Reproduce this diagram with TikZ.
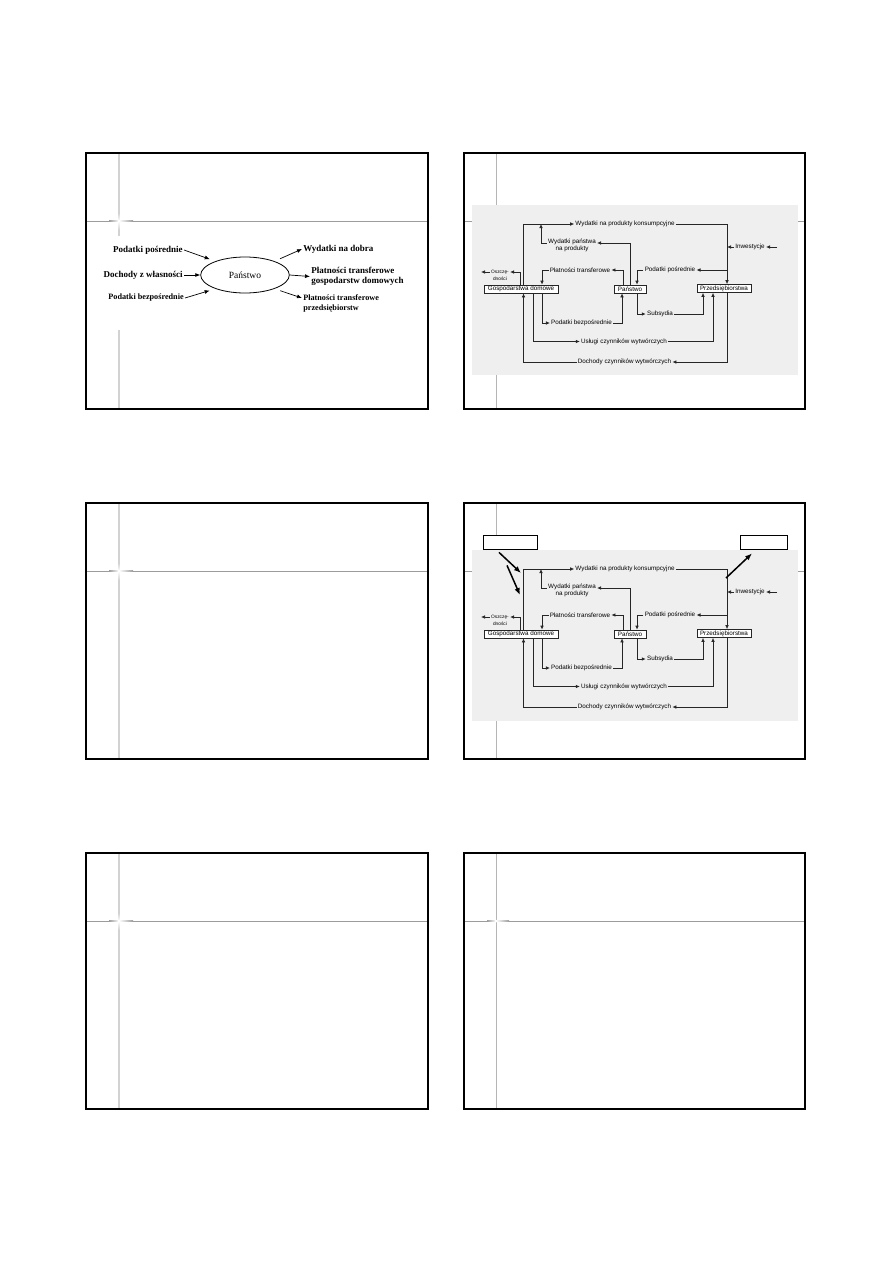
\documentclass[tikz,border=0pt]{standalone}
\usepackage{fontspec}
\setmainfont{Liberation Serif}
\setsansfont{Liberation Sans}
\usetikzlibrary{arrows.meta,shapes.geometric}

\definecolor{panelgray}{HTML}{EFEFEF}
\definecolor{guidegray}{HTML}{9C9C9C}
\definecolor{guidelight}{HTML}{D2D2D2}

% circular flow diagram, drawn twice
\newcommand{\obieg}{%
\node[unit,minimum width=74pt] (gd) at (521,289) {Gospodarstwa domowe};
\node[unit,minimum width=32pt] (pa) at (630,289) {Państwo};
\node[unit,minimum width=54pt] (pr) at (724,288.5) {Przedsiębiorstwa};
\node[lbl] (wpk) at (625,224) {Wydatki na produkty konsumpcyjne};
\node[lbl,align=center] (wpp) at (572,245.5) {Wydatki państwa\\na produkty};
\node[lbl] (inw) at (750,247) {Inwestycje};
\node[lbl] (plt) at (580,270) {Płatności transferowe};
\node[lbl] (pps) at (670,270) {Podatki pośrednie};
\node[lbl,font=\sffamily\fontsize{4.8}{6.5}\selectfont,align=center] (osz) at (500,275.5) {Oszczę-\\dności};
\node[lbl] (pbz) at (581.5,323) {Podatki bezpośrednie};
\node[lbl] (sub) at (660,314) {Subsydia};
\node[lbl] (usl) at (624,341.5) {Usługi czynników wytwórczych};
\node[lbl] (doch) at (624.5,362) {Dochody czynników wytwórczych};
\coordinate (inwsrc) at (777,247);\coordinate (inwin) at (727,247);
\coordinate (ppsout) at (727,270);\coordinate (wppin) at (541,224);
\coordinate (oszend) at (481,272);
\draw[flow] ([xshift=2.5pt]gd.north) |- (wpk.west);
\draw[flow] (wpk.east) -| ([xshift=3pt]pr.north);
\draw[flow] ([xshift=-.5pt]gd.north) |- ([yshift=3.5pt]osz.east);
\draw[flow] ([yshift=3.5pt]osz.west) -- (oszend);
\draw[flow] (pa.north) |- ([yshift=2.5pt]wpp.east);
\draw[flow] ([yshift=2.5pt]wpp.west) -| (wppin);
\draw[flow] ([xshift=-7pt]pa.north) |- (plt.east);
\draw[flow] (plt.west) -| ([xshift=21pt]gd.north);
\draw[flow] (inwsrc) -- (inw.east);
\draw[flow] (inw.west) -- (inwin);
\draw[flow] (ppsout) -- (pps.east);
\draw[flow] (pps.west) -| ([xshift=7pt]pa.north);
\draw[flow] ([xshift=21pt]gd.south) |- (pbz.west);
\draw[flow] (pbz.east) -| ([xshift=-8pt]pa.south);
\draw[flow] ([xshift=7pt]pa.south) |- (sub.west);
\draw[flow] (sub.east) -| ([xshift=-21pt]pr.south);
\draw[flow] ([xshift=12pt]gd.south) |- (usl.west);
\draw[flow] (usl.east) -| ([xshift=-11pt]pr.south);
\draw[flow] ([xshift=3pt]pr.south) |- (doch.east);
\draw[flow] (doch.west) -| ([xshift=2.5pt]gd.south);
}

\begin{document}
\begin{tikzpicture}[x=1pt,y=-1pt,line width=.6pt,
  unit/.style={draw=black!85,fill=white,line width=.7pt,inner sep=0pt,minimum height=8pt,
    font=\sffamily\fontsize{6.3}{7}\selectfont},
  lbl/.style={inner sep=1pt,font=\sffamily\fontsize{6.3}{7}\selectfont},
  flow/.style={draw=black!85,line width=.7pt,-{Latex[length=4pt,width=3.6pt]}},
  srclbl/.style={inner sep=1pt,font=\bfseries\fontsize{9}{10.5}\selectfont},
  thin arrow/.style={-{Latex[length=5pt,width=4pt]},line width=.7pt},
  hint/.style={draw,fill=white,line width=.8pt,minimum width=54pt,minimum height=14pt,inner sep=0pt},
  pointer/.style={-{Latex[length=7pt,width=5.5pt]},line width=1.5pt}]
\useasboundingbox (0,0) rectangle (893,1263);
\fill[white] (0,0) rectangle (893,1263);

% slide frames with guide lines
\foreach \fy/\lw in {153/1.1,503/1.1,853/1.8}{
  \draw[guidegray,line width=.9pt] (86,\fy+68) -- (428,\fy+68);
  \draw[guidelight,line width=1.5pt] (119,\fy) -- (119,\fy+256);
  \shade[left color=guidegray,right color=white] (109,\fy+67.5) rectangle (119,\fy+68.5);
  \shade[left color=white,right color=guidegray] (119,\fy+67.5) rectangle (133,\fy+68.5);
  \shade[top color=guidelight,bottom color=white] (118.2,\fy+60) rectangle (119.8,\fy+68);
  \shade[top color=white,bottom color=guidelight] (118.2,\fy+68) rectangle (119.8,\fy+77);
  \fill[white] (119,\fy+68) circle (1.5);
  \draw[line width=\lw pt] (86,\fy) rectangle (428,\fy+256);
  \draw[guidegray,line width=.9pt] (464,\fy+68) -- (805,\fy+68);
  \draw[guidegray!75,line width=.8pt] (496,\fy) -- (496,\fy+256);
  \shade[left color=guidegray,right color=white] (487,\fy+67.5) rectangle (496,\fy+68.5);
  \shade[left color=white,right color=guidegray] (496,\fy+67.5) rectangle (509,\fy+68.5);
  \fill[white] (496,\fy+68) circle (1.5);
  \draw[line width=\lw pt] (464,\fy) rectangle (805,\fy+256);
}

% slide 1: Panstwo
\fill[white] (108,236) rectangle (130,330);
\node[draw,ellipse,line width=.8pt,minimum width=88.6pt,minimum height=36pt,inner sep=0pt,
  font=\fontsize{9.5}{11}\selectfont] (ell) at (245,275) {Państwo};
\node[srclbl,anchor=east] (lpp) at (184,250) {Podatki pośrednie};
\node[srclbl,anchor=east] (ldz) at (184,275) {Dochody z własności};
\node[srclbl,anchor=east,font=\bfseries\fontsize{8.2}{9.5}\selectfont] (lpb) at (185,298) {Podatki bezpośrednie};
\node[srclbl,anchor=west] (rwd) at (302,249) {Wydatki na dobra};
\node[srclbl,anchor=west,align=left] (rpg) at (310,276.5) {Płatności transferowe\\gospodarstw domowych};
\node[srclbl,anchor=west,align=left,font=\bfseries\fontsize{8.2}{10}\selectfont] (rpp) at (302,303) {Płatności transferowe\\przedsiębiorstw};
\draw[thin arrow,shorten >=6pt] (lpp.east) -- (ell.155);
\draw[thin arrow] (ldz.east) -- (ell.west);
\draw[thin arrow,shorten >=6pt] (lpb.east) -- (ell.205);
\draw[thin arrow,shorten <=6pt] (ell.25) -- (rwd.west);
\draw[thin arrow] (ell.east) -- (rpg.west);
\draw[thin arrow,shorten <=6pt] (ell.-25) -- ([yshift=5pt]rpp.west);

% slide 2
\fill[panelgray] (472,205) rectangle (798,375);
\obieg

% slide 4: same diagram with pointers
\fill[panelgray] (472,550) rectangle (798,721);
\begin{scope}[shift={(0,345)}]
\obieg
\end{scope}
\node[hint] (hintl) at (510,542) {};
\node[hint,minimum width=47pt] (hintr) at (763.5,542) {};
\coordinate (tipa) at (521,573);\coordinate (tipb) at (520,595);\coordinate (cnr) at (726,578);
\draw[pointer] ([xshift=-11pt,yshift=-3pt]hintl.south) -- (tipa);
\draw[pointer] ([xshift=-3pt,yshift=-16pt]hintl.south) -- (tipb);
\draw[pointer] (cnr) -- ([xshift=-11.5pt,yshift=-4pt]hintr.south);
\end{tikzpicture}
\end{document}
